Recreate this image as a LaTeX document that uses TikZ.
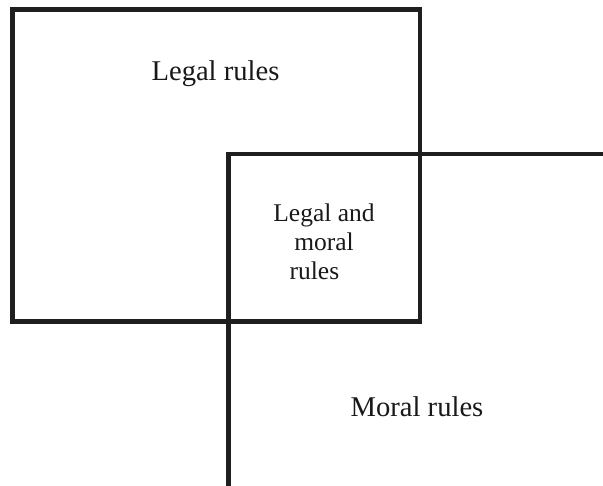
\documentclass[tikz,border=0pt]{standalone}
\usepackage{fontspec}
\setmainfont{Liberation Serif}
\begin{document}
\begin{tikzpicture}[x=1pt,y=1pt,
  frame/.style={line width=4.5pt,line join=miter,draw=black!88},
  biglabel/.style={font=\fontsize{28.6}{32}\selectfont,inner sep=0pt,text=black!90},
  midlabel/.style={font=\fontsize{25.5}{29}\selectfont,inner sep=0pt,align=center,text=black!90}]
\useasboundingbox (0,0) rectangle (603,-486);
\coordinate (lb) at (228.5,-486);
\coordinate (lc) at (228.5,-154);
\coordinate (lr) at (603,-154);
\draw[frame] (12.5,-9.5) rectangle (420,-321.5);
\draw[frame] (lb) -- (lc) -- (lr);
\node[biglabel,anchor=base] (legal) at (215.5,-80.7) {Legal rules};
\node[biglabel,anchor=base] (moral) at (417,-417) {Moral rules};
\node[midlabel,anchor=center] (both) at (324,-242) {Legal and\\moral\\rules\hspace*{0.75em}};
\end{tikzpicture}
\end{document}
